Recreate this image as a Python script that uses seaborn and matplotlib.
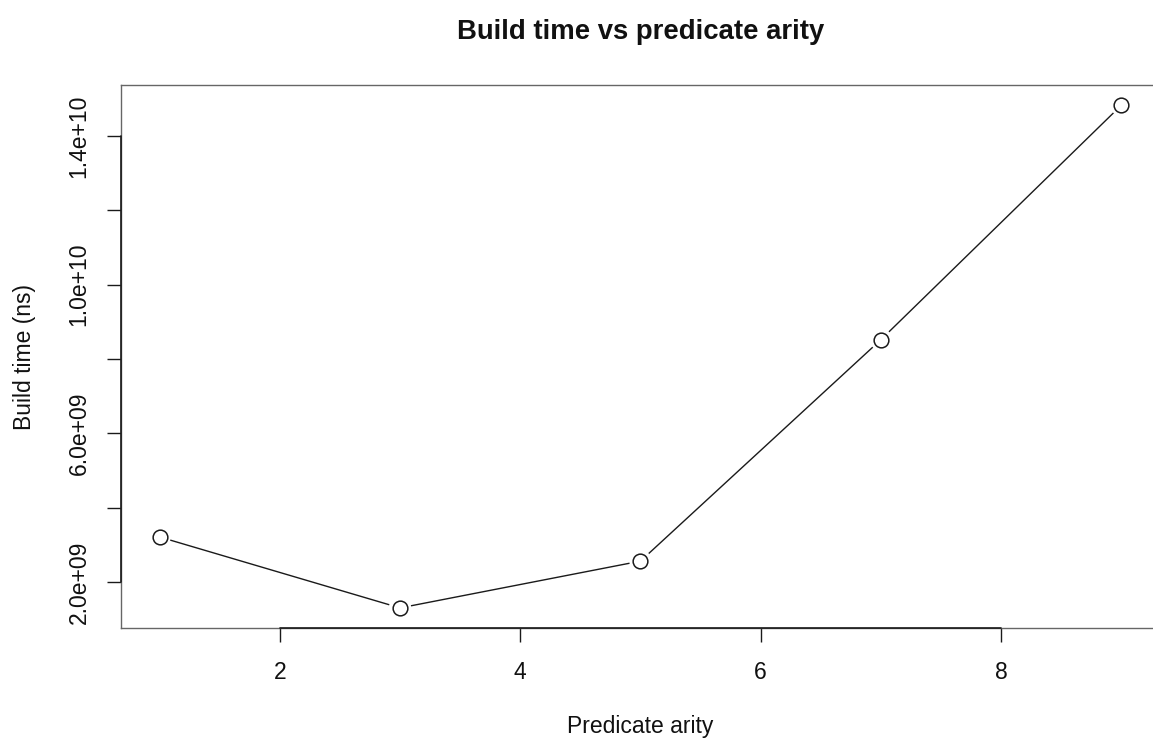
import matplotlib
matplotlib.use("Agg")
import matplotlib.pyplot as plt
import matplotlib.transforms as mtransforms
import seaborn as sns
import pandas as pd

# Build time measurements per predicate arity
arity = [1, 3, 5, 7, 9]
build_ns = [3.21e9, 1.30e9, 2.56e9, 8.52e9, 14.83e9]

x_ticks = [2, 4, 6, 8]
y_ticks = [2e9, 4e9, 6e9, 8e9, 10e9, 12e9, 14e9]
y_tick_labels = ["2.0e+09", "", "6.0e+09", "", "1.0e+10", "", "1.4e+10"]

sns.set_theme(style="white")
plt.rcParams["font.family"] = ["Liberation Sans", "DejaVu Sans"]

df = pd.DataFrame({"arity": arity, "build_ns": build_ns})

fig = plt.figure(figsize=(11.53, 7.38), dpi=100)
ax = fig.add_axes([0.105, 0.149, 0.901, 0.7358])

ink = "#1a1a1a"

# connecting line, then white pads and open circles so the line stops short of each point
sns.lineplot(data=df, x="arity", y="build_ns", ax=ax, color=ink, linewidth=1.0, zorder=2)
ax.scatter(df["arity"], df["build_ns"], s=260, color="white", edgecolors="none", zorder=3)
ax.scatter(df["arity"], df["build_ns"], s=112, facecolors="white", edgecolors=ink,
           linewidths=1.1, zorder=4)

# R-style 4% padding on both axes
xr = max(arity) - min(arity)
yr = max(build_ns) - min(build_ns)
ax.set_xlim(min(arity) - 0.04 * xr, max(arity) + 0.04 * xr)
ax.set_ylim(min(build_ns) - 0.04 * yr, max(build_ns) + 0.04 * yr)

ax.set_xticks(x_ticks)
ax.set_xticklabels([str(t) for t in x_ticks])
ax.set_yticks(y_ticks)
ax.set_yticklabels(y_tick_labels, rotation=90, va="center")

ax.tick_params(axis="both", which="major", direction="out", length=10, width=1.0,
               color=ink, labelsize=16.5, labelcolor="#111111", bottom=True, left=True)
ax.tick_params(axis="x", pad=14)
ax.tick_params(axis="y", pad=12)

for side in ["left", "right", "top", "bottom"]:
    ax.spines[side].set_color("#666666")
    ax.spines[side].set_linewidth(1.0)
    ax.spines[side].set_visible(True)

# axis lines running between the outermost ticks
tx = mtransforms.blended_transform_factory(ax.transData, ax.transAxes)
ty = mtransforms.blended_transform_factory(ax.transAxes, ax.transData)
ax.plot([x_ticks[0], x_ticks[-1]], [0, 0], transform=tx, color=ink, lw=1.2,
        clip_on=False, zorder=5)
ax.plot([0, 0], [y_ticks[0], y_ticks[-1]], transform=ty, color=ink, lw=1.2,
        clip_on=False, zorder=5)

ax.set_xlabel("Predicate arity", fontsize=16.5, labelpad=22, color="#111111")
ax.set_ylabel("Build time (ns)", fontsize=16.5, labelpad=23, color="#111111")
ax.set_title("Build time vs predicate arity", fontsize=19.8, fontweight="bold",
             pad=33, color="#111111")

ax.grid(False)
fig.savefig("out.png", dpi=100, facecolor="white")
